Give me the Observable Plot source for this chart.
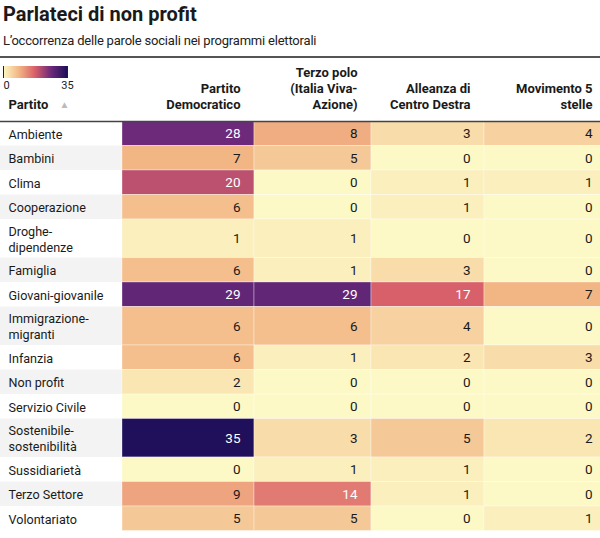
<!DOCTYPE html>
<html><head><meta charset="utf-8">
<script src="https://cdn.jsdelivr.net/npm/d3@7"></script>
<script src="https://cdn.jsdelivr.net/npm/@observablehq/plot@0.6"></script>
<style>
body{margin:0;background:#fff;font-family:Roboto, "Noto Sans", sans-serif;color:#222;}
#wrap{position:relative;width:600px;height:538px;overflow:hidden;}
h1{font-size:20px;font-weight:700;margin:0;position:absolute;left:3px;top:1px;line-height:26px;color:#1a1a1a;}
.sub{position:absolute;left:3px;top:32px;font-size:13px;line-height:18px;color:#222;letter-spacing:-0.2px;}
.rule{position:absolute;left:0;top:56px;width:600px;height:2px;background:#555;}
#chart{position:absolute;left:0;top:57px;}
#legend{position:absolute;left:0;top:66px;}
</style></head><body>
<div id="wrap">
  <h1>Parlateci di non profit</h1>
  <div class="sub">L’occorrenza delle parole sociali nei programmi elettorali</div>
  <div class="rule"></div>
  <div id="chart"></div>
  <div id="legend"></div>
</div>
<script>
// ---- data ----
const partyHeaders = ["Partito\nDemocratico", "Terzo polo\n(Italia Viva-\nAzione)", "Alleanza di\nCentro Destra", "Movimento 5\nstelle"];
const words = ["Ambiente","Bambini","Clima","Cooperazione","Droghe-\ndipendenze","Famiglia","Giovani-giovanile","Immigrazione-\nmigranti","Infanzia","Non profit","Servizio Civile","Sostenibile-\nsostenibilità","Sussidiarietà","Terzo Settore","Volontariato"];
const partitoDemocratico = [28,7,20,6,1,6,29,6,6,2,0,35,0,9,5];
const terzoPolo = [8,5,0,0,1,1,29,6,1,0,0,3,1,14,5];
const centroDestra = [3,0,1,1,0,3,17,4,2,0,0,5,1,1,0];
const movimento5Stelle = [4,0,1,0,0,0,7,0,3,0,0,2,0,0,1];
const legendTicks = [0, 35];

// ---- colour ramp ----
const colorStops = [0, 7, 17, 28, 35];
const colorRange = ["#fdf9c6", "#f2b584", "#d8606a", "#6d2a7b", "#200f5a"];

// ---- layout helpers ----
const series = [partitoDemocratico, terzoPolo, centroDestra, movimento5Stelle];
const LINE = 14;       // px per unit
const PAD = 0.75;      // extra units per row
let acc = 0;
const rows = words.map((w, i) => {
  const lines = w.split("\n").length;
  const y1 = acc; acc += lines + PAD;
  return {label: w, i, y1, y2: acc, ym: (y1 + acc) / 2};
});
const total = acc;
const cells = [];
rows.forEach(r => series.forEach((s, j) => {
  cells.push({word: r.label, x1: j, x2: j + 1, y1: r.y1, y2: r.y2, ym: r.ym, value: s[r.i]});
}));
const headers = partyHeaders.map((h, j) => ({h, x: j + 1}));

const marginTop = 64, marginBottom = 7;
const height = marginTop + total * LINE + marginBottom;

const chart = Plot.plot({
  width: 600,
  height,
  marginTop, marginBottom, marginLeft: 0, marginRight: 0,
  style: {fontFamily: "Roboto, 'Noto Sans', sans-serif", fontSize: "13px", color: "#222", background: "transparent"},
  x: {type: "linear", domain: [-1, 0, 1, 2, 3, 4], range: [0, 122, 254, 371, 484, 606], axis: null},
  y: {type: "linear", domain: [0, total], range: [marginTop, marginTop + total * LINE], axis: null},
  color: {type: "linear", domain: colorStops, range: colorRange},
  marks: [
    Plot.rect(rows.filter(r => r.i % 2 === 1), {x1: -1, x2: 0, y1: "y1", y2: "y2", fill: "#f3f3f3"}),
    Plot.rect(cells, {x1: "x1", x2: "x2", y1: "y1", y2: "y2", fill: "value", stroke: "#fff", strokeOpacity: 0.35, strokeWidth: 1}),
    Plot.text(cells.filter(d => d.value < 14), {x: "x2", y: "ym", text: d => String(d.value), textAnchor: "end", dx: -14, fill: "#1a1a1a", fontSize: 13.5}),
    Plot.text(cells.filter(d => d.value >= 14), {x: "x2", y: "ym", text: d => String(d.value), textAnchor: "end", dx: -14, fill: "#fff", fontSize: 13.5}),
    Plot.text(rows, {x: -1, y: "ym", text: "label", textAnchor: "start", dx: 8, fill: "#1a1a1a", fontSize: 12.6, lineHeight: 1.27}),
    Plot.text(headers, {x: "x", frameAnchor: "top", text: "h", textAnchor: "end", lineAnchor: "bottom", dx: -14, dy: -13, fontWeight: 700, fontSize: 13, fill: "#1a1a1a", lineHeight: 1.23}),
    Plot.text(["Partito"], {x: -1, frameAnchor: "top", text: d => d, textAnchor: "start", lineAnchor: "bottom", dx: 8, dy: -13, fontWeight: 700, fontSize: 13, fill: "#1a1a1a"}),
    Plot.text(["▲"], {x: -1, frameAnchor: "top", text: d => d, textAnchor: "start", lineAnchor: "bottom", dx: 59, dy: -14, fontSize: 10, fill: "#bbb"}),
    Plot.ruleY([0], {x1: -1, x2: 4, stroke: "#444", strokeWidth: 1.5})
  ]
});
document.getElementById("chart").appendChild(chart);

const legend = Plot.legend({
  color: {type: "linear", domain: colorStops, range: colorRange},
  width: 70, height: 30, marginLeft: 3, marginRight: 3, marginTop: 0, marginBottom: 18,
  ticks: legendTicks, tickSize: 0, label: null,
  style: {fontFamily: "Roboto, 'Noto Sans', sans-serif", fontSize: "11px", color: "#222", background: "transparent"}
});
const tickTexts = legend.querySelectorAll("text");
if (tickTexts.length >= 2) {
  tickTexts[0].setAttribute("text-anchor", "start");
  tickTexts[tickTexts.length - 1].setAttribute("text-anchor", "end");
}
document.getElementById("legend").appendChild(legend);
</script>
</body></html>
